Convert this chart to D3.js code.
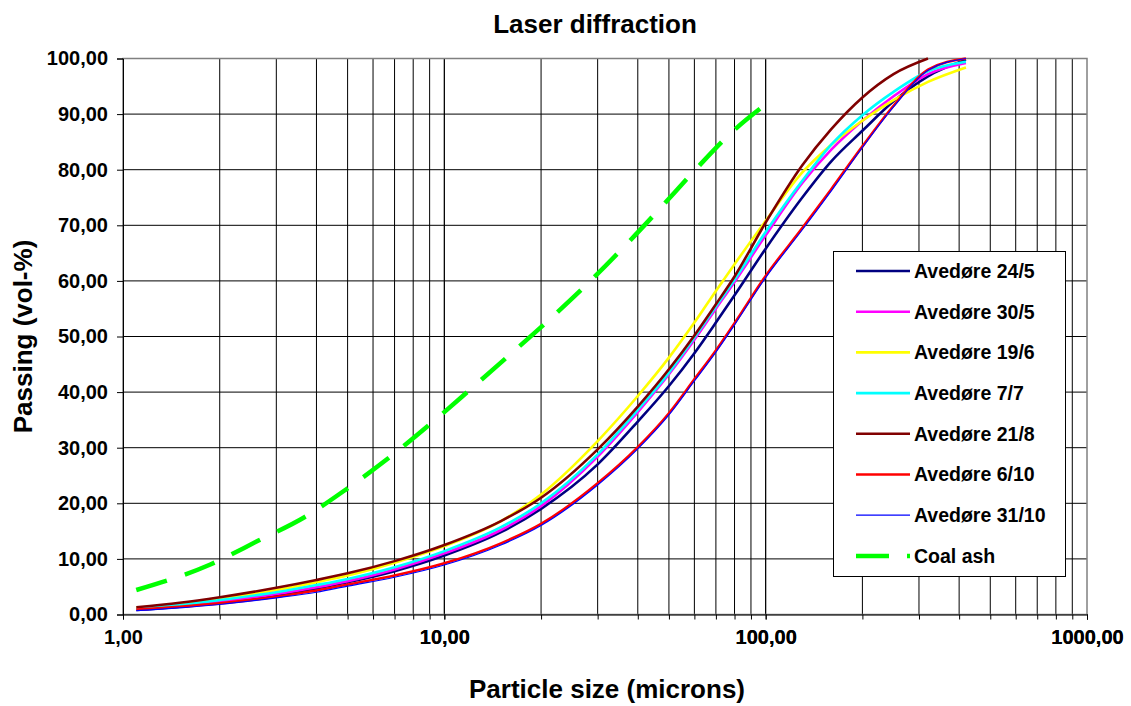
<!DOCTYPE html>
<html>
<head>
<meta charset="utf-8">
<script src="https://cdn.jsdelivr.net/npm/d3@7"></script>
<style>
  body { margin: 0; background: #fff; }
  text { font-family: "Liberation Sans", Arial, sans-serif; font-weight: bold; fill: #000; }
</style>
</head>
<body>
<div id="chart"></div>
<script>
// particle sizes (microns) shared by the Avedøre samples
const sizes = [1.1, 1.5, 2, 3, 4, 5, 7, 10, 15, 20, 30, 40, 50, 60, 70, 80, 100, 130, 160, 200, 250, 320, 420];

const avedore24_5  = [0.8, 1.4, 2.2, 3.5, 4.7, 5.8, 7.8, 10.6, 14.8, 19.0, 27.0, 34.7, 41.1, 47.0, 52.5, 57.4, 65.8, 75.0, 81.5, 87.0, 92.3, 96.8, 99.8];
const avedore30_5  = [0.9, 1.5, 2.3, 3.7, 4.9, 6.0, 8.1, 11.0, 15.2, 19.5, 28.4, 36.4, 43.2, 49.4, 55.0, 59.8, 68.2, 77.6, 83.6, 88.8, 93.2, 97.2, 99.2];
const avedore19_6  = [1.2, 1.9, 2.8, 4.4, 5.8, 7.0, 9.3, 12.3, 16.8, 21.6, 31.2, 39.3, 46.2, 52.5, 58.2, 63.0, 70.8, 79.5, 84.5, 88.8, 92.5, 95.8, 98.4];
const avedore7_7   = [1.0, 1.7, 2.6, 4.0, 5.3, 6.4, 8.5, 11.4, 15.7, 20.0, 28.8, 36.8, 43.5, 49.8, 55.4, 60.2, 68.8, 78.0, 84.5, 89.8, 94.0, 97.7, 99.4];
const avedore21_8  = [1.3, 2.1, 3.1, 4.8, 6.2, 7.4, 9.6, 12.5, 16.8, 21.0, 29.7, 37.4, 44.1, 50.2, 55.8, 60.8, 70.5, 80.8, 87.3, 93.0, 97.2, 100, null];
const avedore6_10  = [0.9, 1.4, 2.0, 3.2, 4.3, 5.4, 7.0, 9.2, 12.8, 16.3, 23.6, 30.1, 36.2, 42.3, 47.5, 52.4, 60.9, 69.5, 76.5, 84.2, 91.5, 98.0, 100];
const avedore31_10 = [0.7, 1.2, 1.8, 3.0, 4.0, 5.1, 6.7, 8.9, 12.5, 16.0, 23.3, 29.8, 35.9, 42.0, 47.2, 52.1, 60.6, 69.2, 76.2, 84.0, 91.3, 97.9, 100];

// coal ash reference curve
const coalSizes   = [1.1, 1.87, 2.64, 3.67, 5.0, 6.8, 9.06, 12, 15.9, 21, 27.8, 36.2, 46.7, 60, 78, 104];
const coalPassing = [4.4, 9.0, 13.3, 17.5, 22.7, 28.4, 34.3, 40.4, 46.6, 52.8, 59.4, 66.1, 72.9, 79.8, 86.6, 92.5];

const seriesNames = ["Avedøre 24/5", "Avedøre 30/5", "Avedøre 19/6", "Avedøre 7/7",
                     "Avedøre 21/8", "Avedøre 6/10", "Avedøre 31/10", "Coal ash"];
const yTicks = [0, 10, 20, 30, 40, 50, 60, 70, 80, 90, 100];
const xTicks = [1, 10, 100, 1000];

const series = [
  { name: seriesNames[0], x: sizes, y: avedore24_5,  color: "#000080", w: 2.6 },
  { name: seriesNames[1], x: sizes, y: avedore30_5,  color: "#FF00FF", w: 2.6 },
  { name: seriesNames[2], x: sizes, y: avedore19_6,  color: "#FFFF00", w: 2.6 },
  { name: seriesNames[3], x: sizes, y: avedore7_7,   color: "#00FFFF", w: 2.6 },
  { name: seriesNames[4], x: sizes, y: avedore21_8,  color: "#800000", w: 2.6 },
  { name: seriesNames[5], x: sizes, y: avedore6_10,  color: "#FF0000", w: 2.6 },
  { name: seriesNames[6], x: sizes, y: avedore31_10, color: "#0000FF", w: 1.2 },
  { name: seriesNames[7], x: coalSizes, y: coalPassing, color: "#00FF00", w: 4.5, dash: "32,19" }
];

const width = 1131, height = 706;
const plot = { left: 123, right: 1087, top: 58.5, bottom: 614.5 };

const svg = d3.select("#chart").append("svg")
  .attr("width", width)
  .attr("height", height);

svg.append("rect").attr("width", width).attr("height", height).attr("fill", "#fff");

const x = d3.scaleLog().domain([1, 1000]).range([plot.left, plot.right]);
const y = d3.scaleLinear().domain([0, 100]).range([plot.bottom, plot.top]);

const locale = d3.formatLocale({ decimal: ",", thousands: "", grouping: [3], currency: ["", ""] });
const fmt = locale.format(".2f");

// --- grid ---
const minorX = [];
for (let dec = 1; dec < 1000; dec *= 10) {
  for (let k = 1; k <= 10; k++) minorX.push(dec * k);
}
const grid = svg.append("g");
grid.selectAll("line.v")
  .data(minorX.filter(v => v > 1 && v < 1000))
  .join("line")
  .attr("x1", d => x(d)).attr("x2", d => x(d))
  .attr("y1", plot.top).attr("y2", plot.bottom)
  .attr("stroke", "#000").attr("stroke-width", 1);
grid.selectAll("line.h")
  .data(yTicks.filter(v => v > 0 && v < 100))
  .join("line")
  .attr("x1", plot.left).attr("x2", plot.right)
  .attr("y1", d => y(d)).attr("y2", d => y(d))
  .attr("stroke", "#000").attr("stroke-width", 1);

svg.append("rect")
  .attr("x", plot.left).attr("y", plot.top)
  .attr("width", plot.right - plot.left).attr("height", plot.bottom - plot.top)
  .attr("fill", "none").attr("stroke", "#808080").attr("stroke-width", 1.5);

// --- axes ---
const yAxis = svg.append("g")
  .attr("transform", `translate(${plot.left},0)`)
  .call(d3.axisLeft(y).tickValues(yTicks).tickSize(6).tickPadding(9).tickFormat(fmt));
yAxis.selectAll("text").style("font-size", "20px");

const xAxis = svg.append("g")
  .attr("transform", `translate(0,${plot.bottom})`)
  .call(d3.axisBottom(x).tickValues(minorX.concat([1000])).tickSize(5).tickPadding(10)
    .tickFormat(d => xTicks.includes(d) ? fmt(d) : ""));
xAxis.selectAll("text").style("font-size", "20px");
[yAxis, xAxis].forEach(a => {
  a.select(".domain").attr("stroke", "#000");
  a.selectAll(".tick line").attr("stroke", "#000");
});

// --- curves ---
const lines = svg.append("g");
series.forEach(s => {
  const pts = s.x.map((v, i) => [v, s.y[i]]);
  const line = d3.line()
    .defined(d => d[1] != null)
    .x(d => x(d[0]))
    .y(d => y(d[1]))
    .curve(d3.curveMonotoneX);
  lines.append("path")
    .attr("d", line(pts))
    .attr("fill", "none")
    .attr("stroke", s.color)
    .attr("stroke-width", s.w)
    .attr("stroke-dasharray", s.dash || null)
    .attr("stroke-linejoin", "round");
});

// --- legend ---
const legend = svg.append("g");
legend.append("rect")
  .attr("x", 833.5).attr("y", 251.5).attr("width", 232).attr("height", 325)
  .attr("fill", "#fff").attr("stroke", "#000").attr("stroke-width", 1);
series.forEach((s, i) => {
  const cy = 271 + i * 40.7;
  legend.append("line")
    .attr("x1", 856).attr("x2", 910).attr("y1", cy).attr("y2", cy)
    .attr("stroke", s.color)
    .attr("stroke-width", s.dash ? 4.5 : (s.w < 2 ? 1.2 : 2.6))
    .attr("stroke-dasharray", s.dash ? "33,18" : null);
  legend.append("text")
    .attr("x", 914).attr("y", cy).attr("dy", "0.35em")
    .style("font-size", "19.5px")
    .text(s.name);
});

// --- titles ---
svg.append("text")
  .attr("x", 595).attr("y", 33)
  .attr("text-anchor", "middle")
  .style("font-size", "26px")
  .text("Laser diffraction");

svg.append("text")
  .attr("x", 607).attr("y", 698)
  .attr("text-anchor", "middle")
  .style("font-size", "26px")
  .text("Particle size (microns)");

svg.append("text")
  .attr("transform", `translate(32,${(plot.top + plot.bottom) / 2}) rotate(-90)`)
  .attr("text-anchor", "middle")
  .style("font-size", "26px")
  .text("Passing (vol-%)");
</script>
</body>
</html>
